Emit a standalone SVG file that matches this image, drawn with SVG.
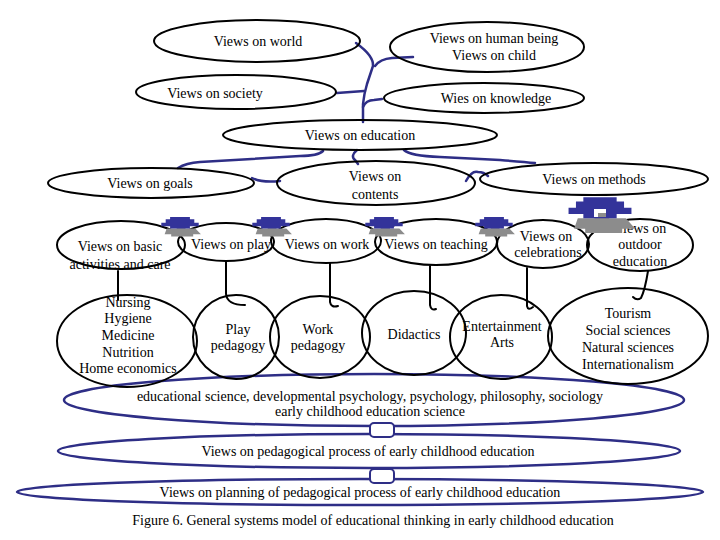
<svg xmlns="http://www.w3.org/2000/svg" xmlns:xlink="http://www.w3.org/1999/xlink" width="720" height="540" viewBox="0 0 720 540">
<style>
.e{fill:none;stroke:#000;stroke-width:2}
.eb{fill:none;stroke:#2E2E86;stroke-width:2.5}
.cb{fill:none;stroke:#2E2E86;stroke-width:2.5;stroke-linecap:round}
.ck{fill:none;stroke:#000;stroke-width:2;stroke-linecap:round}
text{font-family:"Liberation Serif","Times New Roman",serif;font-size:14px;fill:#000;text-anchor:middle}
.box{fill:#fff;stroke:#2E2E86;stroke-width:2}
</style>
<defs>
<g id="star">
<polygon fill="#8C8C8C" points="-12,3 -3,3 -3,1 5,1 5,3 14,3 19,8 12,8 12,10 -8,10 -8,8 -14,8"/>
<polygon fill="#33339A" points="-9,-7 9,-7 9,-5 13,-5 13,-2 17,-2 17,1 9,1 9,3 -9,3 -9,1 -17,1 -17,-2 -13,-2 -13,-5 -9,-5"/>
</g>
</defs>
<rect width="720" height="540" fill="#fff"/>

<g id="connectors">
<path class="cb" d="M363,122 L363,104 Q364,94 367,84 L373,66 Q374,56 356,43"/>
<path class="cb" d="M375,66 Q380,59 392,58 L413,57"/>
<path class="cb" d="M337,93 L364,91"/>
<path class="cb" d="M363,107 Q366,100 374,100 L382,99"/>
<path class="cb" d="M323,151 Q318,156 300,156 L200,162 Q186,163 178,168"/>
<path class="cb" d="M252,178 Q262,183 280,181"/>
<path class="cb" d="M357,150 Q350,156 355,160 L358,164"/>
<path class="cb" d="M404,150 Q410,156 440,157 L500,160 Q525,162 535,163"/>
<path class="cb" d="M466,181 Q472,170 478,172 Q484,172 488,176"/>
<path class="ck" d="M118,271 L118,300"/>
<path class="ck" d="M226,261 L226,294 Q227,305 245,305"/>
<path class="ck" d="M330,263 L330,302 Q331,308 338,306"/>
<path class="ck" d="M430,266 L430,305 Q431,311 436,309"/>
<path class="ck" d="M527,268 L527,306 Q528,311 533,307"/>
<path class="ck" d="M648,271 Q645,290 641,298 Q637,301 633,297"/>
</g>

<g id="n-world"><ellipse class="e" cx="257" cy="41" rx="103" ry="21"/><text x="258" y="46">Views on world</text></g>
<g id="n-human"><ellipse class="e" cx="487" cy="47" rx="97" ry="25"/><text x="494" y="43">Views on human being</text><text x="494" y="60">Views on child</text></g>
<g id="n-society"><ellipse class="e" cx="236" cy="92" rx="100" ry="17"/><text x="215" y="98">Views on society</text></g>
<g id="n-knowledge"><ellipse class="e" cx="484" cy="98" rx="100" ry="15"/><text x="496" y="103">Wies on knowledge</text></g>
<g id="n-education"><ellipse class="e" cx="360" cy="135" rx="137" ry="15"/><text x="360" y="140">Views on education</text></g>

<g id="n-goals"><ellipse class="e" cx="151" cy="183" rx="103" ry="15"/><text x="150" y="188">Views on goals</text></g>
<g id="n-contents"><ellipse class="e" cx="376" cy="183" rx="99" ry="22"/><text x="375" y="181">Views on</text><text x="375" y="199">contents</text></g>
<g id="n-methods"><ellipse class="e" cx="594" cy="179" rx="114" ry="16"/><text x="594" y="184">Views on methods</text></g>

<g id="n-basic"><ellipse class="e" cx="121" cy="245" rx="64" ry="24"/><text x="120" y="251">Views on basic</text><text x="120" y="269">activities and care</text></g>
<g id="n-play"><ellipse class="e" cx="226" cy="242" rx="48" ry="19"/><text x="231" y="249">Views on play</text></g>
<g id="n-work"><ellipse class="e" cx="326" cy="241" rx="55" ry="22"/><text x="327" y="249">Views on work</text></g>
<g id="n-teaching"><ellipse class="e" cx="436" cy="242" rx="61" ry="23"/><text x="436" y="249">Views on teaching</text></g>
<g id="n-celebrations"><ellipse class="e" cx="543" cy="244" rx="46" ry="24"/><text x="546" y="241">Views on</text><text x="548" y="257">celebrations</text></g>
<g id="n-outdoor"><ellipse class="e" cx="640" cy="245" rx="53" ry="26"/><text x="640" y="233">Views on</text><text x="640" y="249">outdoor</text><text x="640" y="266">education</text></g>

<g id="n-science"><ellipse class="eb" cx="374" cy="400" rx="310" ry="26"/><text x="370" y="401">educational science, developmental psychology, psychology, philosophy, sociology</text><text x="370" y="416">early childhood education science</text></g>

<g id="n-nursing"><ellipse class="e" cx="127" cy="341" rx="70" ry="46"/><text x="128" y="307">Nursing</text><text x="128" y="323">Hygiene</text><text x="128" y="340">Medicine</text><text x="128" y="357">Nutrition</text><text x="128" y="373">Home economics</text></g>
<g id="n-playped"><ellipse class="e" cx="236" cy="337" rx="43" ry="42"/><text x="238" y="334">Play</text><text x="238" y="350">pedagogy</text></g>
<g id="n-workped"><ellipse class="e" cx="320" cy="337" rx="50" ry="41"/><text x="318" y="334">Work</text><text x="318" y="350">pedagogy</text></g>
<g id="n-didactics"><ellipse class="e" cx="414" cy="333" rx="52" ry="42"/><text x="414" y="339">Didactics</text></g>
<g id="n-entertainment"><ellipse class="e" cx="501" cy="337" rx="51" ry="42"/><text x="502" y="331">Entertainment</text><text x="502" y="347">Arts</text></g>
<g id="n-tourism"><ellipse class="e" cx="628" cy="336" rx="80" ry="48"/><text x="628" y="318">Tourism</text><text x="628" y="335">Social sciences</text><text x="628" y="352">Natural sciences</text><text x="628" y="369">Internationalism</text></g>

<g id="n-process"><ellipse class="eb" cx="369" cy="451" rx="311" ry="17"/><text x="368" y="456">Views on pedagogical process of early childhood education</text></g>
<g id="n-planning"><ellipse class="eb" cx="360" cy="492" rx="343" ry="13"/><text x="360" y="497">Views on planning of pedagogical process of early childhood education</text></g>

<g id="links">
<rect class="box" x="370" y="423" width="24" height="14" rx="4"/>
<rect class="box" x="370" y="469" width="24" height="14" rx="4"/>
</g>

<g id="stars">
<use xlink:href="#star" transform="translate(180,225) scale(1.1,1.15)"/>
<use xlink:href="#star" transform="translate(271,225) scale(1.1,1.15)"/>
<use xlink:href="#star" transform="translate(384,225) scale(1.1,1.15)"/>
<use xlink:href="#star" transform="translate(494,225) scale(1.1,1.15)"/>
<use xlink:href="#star" transform="translate(600,212) scale(1.85,2.1)"/>
<rect x="594" y="209" width="12" height="8" fill="#fff"/>
<rect x="598" y="213" width="8" height="4" fill="#8C8C8C"/>
</g>

<text x="373" y="525">Figure 6. General systems model of educational thinking in early childhood education</text>
</svg>
